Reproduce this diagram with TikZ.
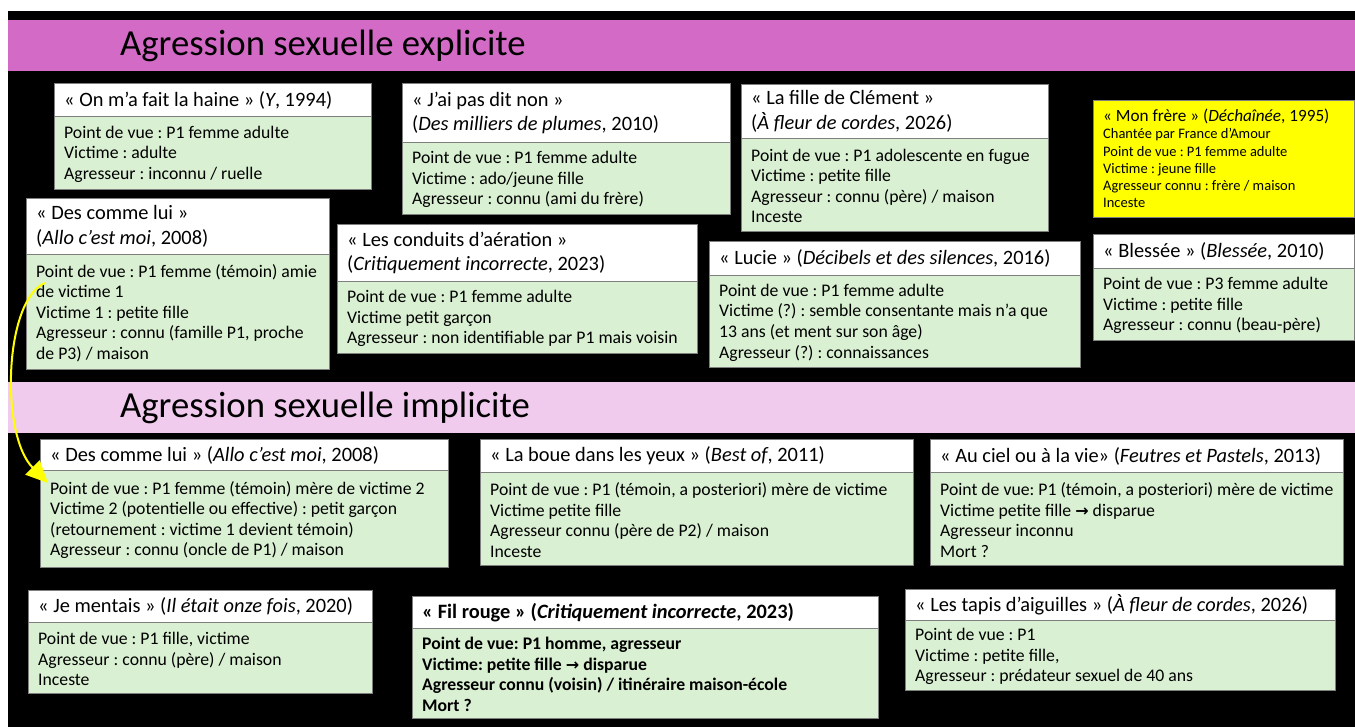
\documentclass[tikz,border=0pt]{standalone}
\usepackage{fontspec}
\setmainfont{Carlito}
\newfontfamily\arrfont{DejaVu Sans}
\usetikzlibrary{arrows.meta,calc}
\frenchspacing
\definecolor{bannerA}{HTML}{D36BC6}
\definecolor{bannerB}{HTML}{F1CBEE}
\definecolor{boxgreen}{HTML}{D9F0D2}
\definecolor{boxline}{HTML}{7F7F7F}
\definecolor{hiyellow}{HTML}{FFFF00}
\newcommand\rarr{{\arrfont\bfseries\fontsize{16}{16}\selectfont →}}
\newcommand\card[8]{%
  \node[hdr, minimum width=#4, minimum height=#5] (#1h) at (#2,#3) {};
  \node[bdy, minimum width=#4, minimum height=#6] (#1b) at (#1h.south west) {};
  \node[htext] (#1t) at ([xshift=10pt,yshift=-0.5pt]#1h.west) {#7};
  \node[btext] (#1x) at ([xshift=10pt,yshift=-1.5pt]#1b.west) {#8};
}
\begin{document}
\begin{tikzpicture}[x=1pt,y=-1pt,
  panel/.style={draw=boxline, line width=0.6pt, anchor=north west, inner sep=0pt, outer sep=0pt},
  hdr/.style={panel, fill=white},
  bdy/.style={panel, fill=boxgreen},
  htext/.style={anchor=west, inner sep=0pt, align=left, font=\fontsize{20.4}{24.5}\selectfont},
  btext/.style={anchor=west, inner sep=0pt, align=left, font=\fontsize{17.7}{20.6}\selectfont},
  banner/.style={anchor=north west, minimum width=1347, minimum height=51, inner sep=0pt, outer sep=0pt},
  bantext/.style={anchor=west, inner sep=0pt, font=\fontsize{36.7}{40}\selectfont}
]
\useasboundingbox (0,0) rectangle (1355,727);
\fill[white] (0,0) rectangle (1355,727);
\fill[black] (8,11) rectangle (1355,727);

% banners
\node[banner, fill=bannerA] (banA) at (8,20) {};
\node[bantext] (banAt) at ([xshift=112pt]banA.west) {Agression sexuelle explicite};
\node[banner, fill=bannerB] (banB) at (8,382) {};
\node[bantext] (banBt) at ([xshift=112pt]banB.west) {Agression sexuelle implicite};

% explicit cards
\card{B1}{54}{83}{317}{33}{73}{« On m’a fait la haine » (\textit{Y}, 1994)}
  {Point de vue : P1 femme adulte\\Victime : adulte\\Agresseur : inconnu / ruelle}
\card{B2}{26}{198}{303}{56}{115}{« Des comme lui »\\(\textit{Allo c’est moi}, 2008)}
  {Point de vue : P1 femme (témoin) amie\\de victime 1\\Victime 1 : petite fille\\Agresseur : connu (famille P1, proche\\de P3) / maison}
\card{B3}{402}{83}{328}{59}{72}{« J’ai pas dit non »\\(\textit{Des milliers de plumes}, 2010)}
  {Point de vue : P1 femme adulte\\Victime : ado/jeune fille\\Agresseur : connu (ami du frère)}
\card{B4}{337}{224}{360}{57}{72}{« Les conduits d’aération »\\(\textit{Critiquement incorrecte}, 2023)}
  {Point de vue : P1 femme adulte\\Victime petit garçon\\Agresseur : non identifiable par P1 mais voisin}
\card{B5}{741}{84}{307}{54}{93}{« La fille de Clément »\\(\textit{À fleur de cordes}, 2026)}
  {Point de vue : P1 adolescente en fugue\\Victime : petite fille\\Agresseur : connu (père) / maison\\Inceste}
\card{B6}{709}{241}{371}{34}{92}{« Lucie » (\textit{Décibels et des silences}, 2016)}
  {Point de vue : P1 femme adulte\\Victime (?) : semble consentante mais n’a que\\13 ans (et ment sur son âge)\\Agresseur (?) : connaissances}
\node[panel, fill=hiyellow, minimum width=261, minimum height=117] (B7h) at (1093,100) {};
\node[anchor=west, inner sep=0pt, align=left, font=\fontsize{14.5}{17.2}\selectfont] (B7t) at ([xshift=10pt]B7h.west)
  {{\fontsize{17.2}{17.2}\selectfont « Mon frère » (\textit{Déchaînée}, 1995)}\\Chantée par France d’Amour\\Point de vue : P1 femme adulte\\Victime : jeune fille\\Agresseur connu : frère / maison\\Inceste};
\card{B8}{1093}{234}{261}{34}{72}{« Blessée » (\textit{Blessée}, 2010)}
  {Point de vue : P3 femme adulte\\Victime : petite fille\\Agresseur : connu (beau-père)}

% implicit cards
\card{B9}{40}{439}{408}{31}{97}{« Des comme lui » (\textit{Allo c’est moi}, 2008)}
  {Point de vue : P1 femme (témoin) mère de victime 2\\Victime 2 (potentielle ou effective) : petit garçon\\(retournement : victime 1 devient témoin)\\Agresseur : connu (oncle de P1) / maison}
\card{B10}{480}{439}{433}{33}{93}{« La boue dans les yeux » (\textit{Best of}, 2011)}
  {Point de vue : P1 (témoin, a posteriori) mère de victime\\Victime petite fille\\Agresseur connu (père de P2) / maison\\Inceste}
\card{B11}{930}{439}{413}{33}{93}{« Au ciel ou à la vie» (\textit{Feutres et Pastels}, 2013)}
  {Point de vue: P1 (témoin, a posteriori) mère de victime\\Victime petite fille \rarr{} disparue\\Agresseur inconnu\\Mort ?}
\card{B12}{28}{590}{344}{32}{71}{« Je mentais » (\textit{Il était onze fois}, 2020)}
  {Point de vue : P1 fille, victime\\Agresseur : connu (père) / maison\\Inceste}
\card{B13}{412}{596}{466}{32}{90}{\textbf{« Fil rouge » (\textit{Critiquement incorrecte}, 2023)}}
  {\textbf{Point de vue: P1 homme, agresseur}\\\textbf{Victime: petite fille \rarr{} disparue}\\\textbf{Agresseur connu (voisin) / itinéraire maison-école}\\\textbf{Mort ?}}
\card{B14}{905}{589}{430}{31}{70}{« Les tapis d’aiguilles » (\textit{À fleur de cordes}, 2026)}
  {Point de vue : P1\\Victime : petite fille,\\Agresseur : prédateur sexuel de 40 ans}

% yellow connector
\coordinate (arrS) at ($(B2b.north west)+(19,29)$);
\coordinate (arrE) at ($(B9b.north west)+(8,13)$);
\draw[hiyellow, line width=2pt, -{Triangle[length=22pt,width=20pt]}]
  (arrS) .. controls (4,300) and (0,435) .. (arrE);
\end{tikzpicture}
\end{document}
